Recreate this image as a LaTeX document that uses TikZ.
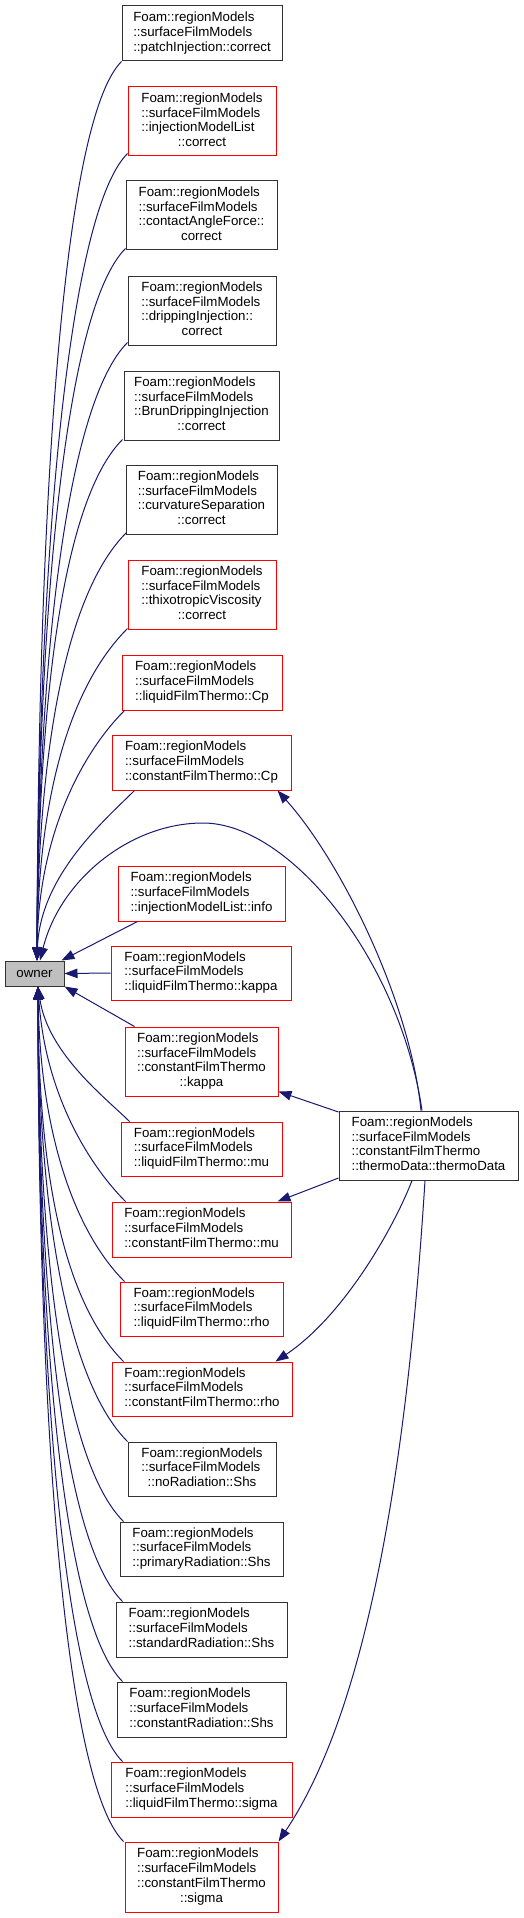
\documentclass[tikz,border=0pt]{standalone}
\usepackage{fontspec}
\setmainfont{Liberation Sans}
\usetikzlibrary{arrows.meta,calc}
\definecolor{edgeblue}{RGB}{25,25,112}
\definecolor{ownergray}{RGB}{191,191,191}
\newcommand\lbl[2]{\begin{tabular}{@{}l@{}}#1\\\multicolumn{1}{@{}c@{}}{#2}\end{tabular}}
\newcommand\FR{Foam::regionModels\\::surfaceFilmModels}
\tikzset{
  fn/.style={draw=black!80, line width=1pt, inner sep=0pt, fill=white,
    font=\fontsize{13.3}{14.7}\selectfont},
  fnred/.style={fn, draw=red},
  hthree/.style={minimum height=55pt},
  hfour/.style={minimum height=69pt},
  callarr/.style={draw=edgeblue, line width=1pt, -{Triangle[length=13pt,width=9.5pt]}},
}
\begin{document}
\begin{tikzpicture}[x=1pt,y=-1pt]
\useasboundingbox (0,0) rectangle (524,1918);
% nodes
\node[fn, minimum width=59pt, minimum height=25pt, fill=ownergray] (owner) at (34.5,973.5) {owner};
\node[fn, hthree, minimum width=160pt] (n1) at (202,33.5) {\lbl{\FR}{::patchInjection::correct}};
\node[fnred, hfour, minimum width=148pt] (n2) at (202,121.5) {\lbl{\FR\\::injectionModelList}{::correct}};
\node[fn, hfour, minimum width=151pt] (n3) at (201.5,215.5) {\lbl{\FR\\::contactAngleForce::}{correct}};
\node[fn, hfour, minimum width=148pt] (n4) at (202,310.5) {\lbl{\FR\\::drippingInjection::}{correct}};
\node[fn, hfour, minimum width=155pt] (n5) at (201.5,405.5) {\lbl{\FR\\::BrunDrippingInjection}{::correct}};
\node[fn, hfour, minimum width=151pt] (n6) at (201.5,499.5) {\lbl{\FR\\::curvatureSeparation}{::correct}};
\node[fnred, hfour, minimum width=148pt] (n7) at (202,594.5) {\lbl{\FR\\::thixotropicViscosity}{::correct}};
\node[fnred, hthree, minimum width=160pt] (n8) at (202,682.5) {\lbl{\FR}{::liquidFilmThermo::Cp}};
\node[fnred, hthree, minimum width=179pt] (n9) at (201.5,762.5) {\lbl{\FR}{::constantFilmThermo::Cp}};
\node[fnred, hthree, minimum width=167pt] (n10) at (201.5,893.5) {\lbl{\FR}{::injectionModelList::info}};
\node[fnred, minimum height=54pt, minimum width=180pt] (n11) at (201,973) {\lbl{\FR}{::liquidFilmThermo::kappa}};
\node[fnred, hfour, minimum width=153pt] (n12) at (201.5,1061.5) {\lbl{\FR\\::constantFilmThermo}{::kappa}};
\node[fnred, minimum height=54pt, minimum width=161pt] (n13) at (201.5,1149) {\lbl{\FR}{::liquidFilmThermo::mu}};
\node[fnred, hthree, minimum width=179pt] (n14) at (201.5,1229.5) {\lbl{\FR}{::constantFilmThermo::mu}};
\node[fnred, minimum height=54pt, minimum width=163pt] (n15) at (201.5,1309) {\lbl{\FR}{::liquidFilmThermo::rho}};
\node[fnred, minimum height=54pt, minimum width=180pt] (n16) at (202,1389) {\lbl{\FR}{::constantFilmThermo::rho}};
\node[fn, minimum height=54pt, minimum width=148pt] (n17) at (202,1469) {\lbl{\FR}{::noRadiation::Shs}};
\node[fn, minimum height=54pt, minimum width=163pt] (n18) at (201.5,1549) {\lbl{\FR}{::primaryRadiation::Shs}};
\node[fn, hthree, minimum width=171pt] (n19) at (201.5,1629.5) {\lbl{\FR}{::standardRadiation::Shs}};
\node[fn, hthree, minimum width=169pt] (n20) at (201.5,1709.5) {\lbl{\FR}{::constantRadiation::Shs}};
\node[fnred, hthree, minimum width=181pt] (n21) at (201.5,1789.5) {\lbl{\FR}{::liquidFilmThermo::sigma}};
\node[fnred, minimum height=70pt, minimum width=153pt] (n22) at (201.5,1877) {\lbl{\FR\\::constantFilmThermo}{::sigma}};
\node[fn, hfour, minimum width=179pt] (td) at (428.5,1145.5) {\lbl{\FR\\::constantFilmThermo}{::thermoData::thermoData}};
% upper callers -> owner
\coordinate (ot) at ($(owner.north)+(2.5,0)$);
\coordinate (ob) at ($(owner.south)+(3.5,0)$);
\draw[callarr] (n1.south west) .. controls (62,121) and (38,511) .. (ot);
\draw[callarr] ($(n2.south west)+(0,-3)$) .. controls (68,213) and (38,557) .. (ot);
\draw[callarr] ($(n3.south west)+(0,-2)$) .. controls (66,308) and (38,604) .. (ot);
\draw[callarr] ($(n4.south west)+(0,-3)$) .. controls (68,402) and (38,651) .. (ot);
\draw[callarr] ($(n5.south west)+(-1,-1)$) .. controls (63,499) and (38,700) .. (ot);
\draw[callarr] ($(n6.south west)+(1,-2)$) .. controls (67,592) and (38,746) .. (ot);
\draw[callarr] ($(n7.south west)+(0,-1)$) .. controls (71,685) and (38,794) .. (ot);
\draw[callarr] ($(n8.south west)+(3,0)$) .. controls (82,753) and (38,835) .. (ot);
\draw[callarr] ($(n9.south west)+(23,0)$) .. controls (106,819) and (40,875) .. (ot);
\draw[callarr] ($(n10.south west)+(20,0)$) -- ($(owner.north east)+(-3,0)$);
\draw[callarr] (n11.west) -- (owner.east);
\draw[callarr] ($(n12.north west)+(10,0)$) -- (owner.south east);
% lower callers -> owner
\draw[callarr] ($(n13.north west)+(9,0)$) .. controls (107,1099) and (48,1054) .. (ob);
\draw[callarr] ($(n14.north west)+(14,0)$) .. controls (89,1165) and (45,1094) .. (ob);
\draw[callarr] ($(n15.north west)+(5,0)$) .. controls (75,1232) and (40,1134) .. (ob);
\draw[callarr] ($(n16.north west)+(12,0)$) .. controls (64,1302) and (38,1174) .. (ob);
\draw[callarr] (n17.north west) .. controls (68,1382) and (38,1214) .. (ob);
\draw[callarr] ($(n18.north west)+(4,0)$) .. controls (64,1462) and (38,1254) .. (ob);
\draw[callarr] ($(n19.north west)+(7,0)$) .. controls (63,1542) and (38,1294) .. (ob);
\draw[callarr] ($(n20.north west)+(6,0)$) .. controls (63,1622) and (38,1334) .. (ob);
\draw[callarr] ($(n21.north west)+(12,0)$) .. controls (63,1702) and (38,1374) .. (ob);
\draw[callarr] ($(n22.north west)+(-1,0)$) .. controls (64,1782) and (38,1414) .. (ob);
% thermoData edges
\coordinate (peak) at (203,823);
\draw[callarr] ($(td.north)+(-6.5,0)$) .. controls (400,960) and (290,823) .. (peak)
  .. controls (130,823) and (60,880) .. ($(owner.north)+(5.5,0)$);
\draw[callarr] ($(td.north)+(-7.5,0)$) .. controls (410,1000) and (340,860) .. ($(n9.south east)+(-14,0)$);
\draw[callarr] ($(td.west)+(0,-33.5)$) -- ($(n12.south east)+(0,-5)$);
\draw[callarr] ($(td.west)+(0,32.5)$) -- ($(n14.north east)+(-14,0)$);
\draw[callarr] ($(td.south)+(-16.5,0)$) .. controls (395,1225) and (345,1315) .. ($(n16.north east)+(-17,0)$);
\draw[callarr] ($(td.south)+(-3.5,0)$) .. controls (405,1500) and (360,1720) .. (n22.north east);
\end{tikzpicture}
\end{document}
